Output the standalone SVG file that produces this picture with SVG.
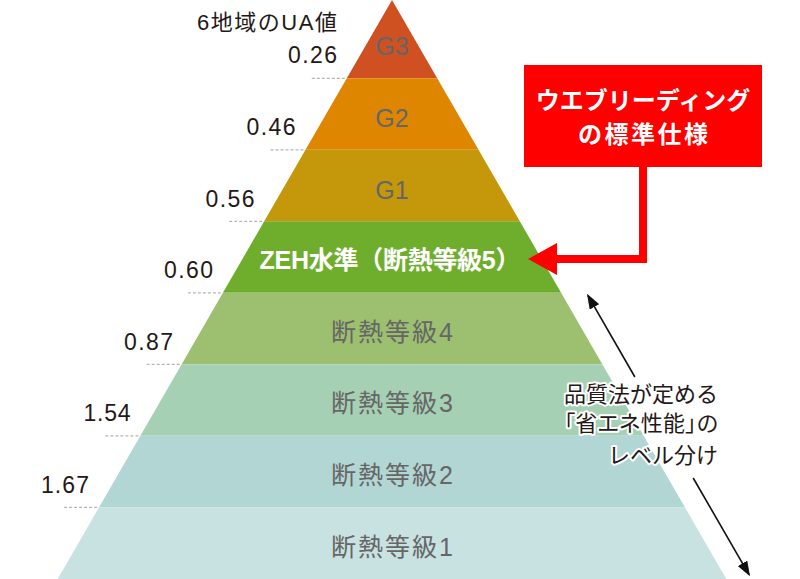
<svg xmlns="http://www.w3.org/2000/svg" width="800" height="579" viewBox="0 0 800 579">
<defs>
<style>
.num{font-family:"Liberation Sans","Noto Sans CJK JP",sans-serif;font-size:23px;fill:#231815;text-anchor:end}
.glab{font-family:"Liberation Sans","Noto Sans CJK JP",sans-serif;font-size:25px;fill:#666;text-anchor:middle}
.lv{font-family:"Liberation Sans","Noto Sans CJK JP",sans-serif;font-size:25px;fill:#666;text-anchor:middle;letter-spacing:2px}
.guide{stroke:#b5b5b5;stroke-width:1.2;stroke-dasharray:3 2;fill:none}
.call{font-family:"Noto Sans CJK JP","Liberation Sans",sans-serif;font-size:24px;font-weight:bold;fill:#fff;text-anchor:middle}
.note{font-family:"Noto Sans CJK JP","Liberation Sans",sans-serif;font-size:22px;fill:#231815;text-anchor:end;stroke:#fff;stroke-width:4px;stroke-linejoin:round;paint-order:stroke}
</style>
<marker id="redhead" markerUnits="userSpaceOnUse" markerWidth="29" markerHeight="32" refX="7" refY="16" orient="auto" viewBox="0 0 29 32">
<path d="M0,0 L29,16 L0,32 z" fill="#ff0000"/>
</marker>
<marker id="blkhead" markerUnits="userSpaceOnUse" markerWidth="15" markerHeight="11" refX="13" refY="5.5" orient="auto-start-reverse" viewBox="0 0 15 11">
<path d="M0,0 L15,5.5 L0,11 z" fill="#111"/>
</marker>
</defs>
<rect width="800" height="579" fill="#fff"/>

<g id="band-g3">
<polygon points="392,0 437.2,78.3 346.8,78.3" fill="#cf5020"/>
<text class="glab" x="392" y="55">G3</text>
</g>
<g id="band-g2">
<polygon points="346.8,78.3 437.2,78.3 478.5,149.8 305.5,149.8" fill="#de8600"/>
<text class="glab" x="392" y="127">G2</text>
</g>
<g id="band-g1">
<polygon points="305.5,149.8 478.5,149.8 519.8,221.3 264.2,221.3" fill="#c4980a"/>
<text class="glab" x="392" y="199">G1</text>
</g>
<g id="band-zeh">
<polygon points="264.2,221.3 519.8,221.3 561.1,292.8 222.9,292.8" fill="#6fae2d"/>
<text x="390" y="269" textLength="261" lengthAdjust="spacing" style="font-family:'Liberation Sans','Noto Sans CJK JP',sans-serif;font-size:25px;font-weight:bold;fill:#fff;text-anchor:middle">ZEH水準（断熱等級5）</text>
</g>
<g id="band-4">
<polygon points="222.9,292.8 561.1,292.8 602.3,364.3 181.7,364.3" fill="#9dbf70"/>
<text class="lv" x="393" y="341">断熱等級4</text>
</g>
<g id="band-3">
<polygon points="181.7,364.3 602.3,364.3 643.6,435.8 140.4,435.8" fill="#a5d0b4"/>
<text class="lv" x="393" y="412">断熱等級3</text>
</g>
<g id="band-2">
<polygon points="140.4,435.8 643.6,435.8 684.9,507.3 99.1,507.3" fill="#b2d6d3"/>
<text class="lv" x="393" y="484">断熱等級2</text>
</g>
<g id="band-1">
<polygon points="99.1,507.3 684.9,507.3 726.9,580 57.1,580" fill="#c8e2e2"/>
<text class="lv" x="393" y="556">断熱等級1</text>
</g>

<g id="ua-values">
<text class="num" x="337" y="30" textLength="140" lengthAdjust="spacing" style="font-size:22px">6地域のUA値</text>
<line class="guide" x1="311.8" y1="78.3" x2="346.8" y2="78.3"/>
<text class="num" x="337" y="63" textLength="49" lengthAdjust="spacing">0.26</text>
<line class="guide" x1="270.5" y1="149.8" x2="305.5" y2="149.8"/>
<text class="num" x="295.5" y="135" textLength="49" lengthAdjust="spacing">0.46</text>
<line class="guide" x1="229.2" y1="221.3" x2="264.2" y2="221.3"/>
<text class="num" x="254.5" y="206.5" textLength="49" lengthAdjust="spacing">0.56</text>
<line class="guide" x1="187.9" y1="292.8" x2="222.9" y2="292.8"/>
<text class="num" x="213" y="278" textLength="49" lengthAdjust="spacing">0.60</text>
<line class="guide" x1="146.7" y1="364.3" x2="181.7" y2="364.3"/>
<text class="num" x="173" y="349.5" textLength="49" lengthAdjust="spacing">0.87</text>
<line class="guide" x1="105.4" y1="435.8" x2="140.4" y2="435.8"/>
<text class="num" x="130.5" y="421" textLength="47" lengthAdjust="spacing">1.54</text>
<line class="guide" x1="64.1" y1="507.3" x2="99.1" y2="507.3"/>
<text class="num" x="89" y="492.5" textLength="48" lengthAdjust="spacing">1.67</text>
</g>

<g id="callout">
<rect x="524" y="65" width="238" height="102" fill="#ff0000"/>
<text class="call" x="643" y="109">ウエブリーディング</text>
<text class="call" x="643" y="143" textLength="130" lengthAdjust="spacing">の標準仕様</text>
</g>

<g id="note">
<text class="note" x="718" y="401.5">品質法が定める</text>
<text class="note" x="718" y="431" style="font-feature-settings:'palt'" textLength="154" lengthAdjust="spacing">「省エネ性能」の</text>
<text class="note" x="718" y="462.5">レベル分け</text>
</g>

<g id="connectors">
<path d="M643,166 V259 H550" fill="none" stroke="#ff0000" stroke-width="8" marker-end="url(#redhead)"/>
<line x1="588" y1="295.6" x2="634.9" y2="377" stroke="#111" stroke-width="1.6" marker-start="url(#blkhead)"/>
<line x1="693.2" y1="478" x2="749" y2="574.6" stroke="#111" stroke-width="1.6" marker-end="url(#blkhead)"/>
</g>
</svg>
